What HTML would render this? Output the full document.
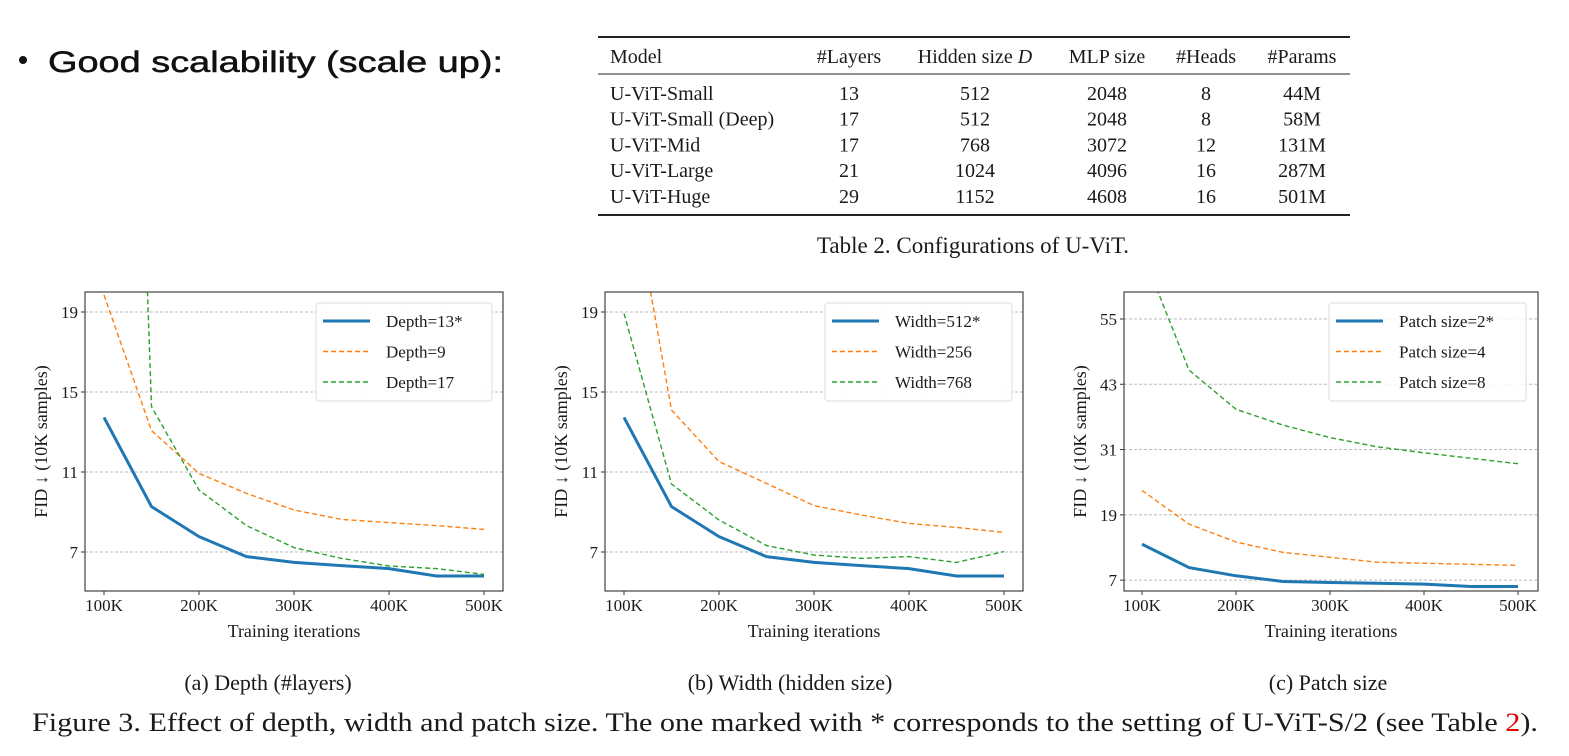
<!DOCTYPE html>
<html><head><meta charset="utf-8"><style>
body{margin:0;background:#fff;width:1569px;height:756px;overflow:hidden}
svg{display:block}
.serif{font-family:"Liberation Serif",serif;fill:#1a1a1a}
</style></head><body>
<svg id="root" width="1569" height="756" xmlns="http://www.w3.org/2000/svg">
<g>
<circle cx="23" cy="60" r="4" fill="#111"/>
<text x="48" y="72" font-family="Liberation Sans, sans-serif" font-size="30" fill="#111" stroke="#111" stroke-width="0.5" textLength="455" lengthAdjust="spacingAndGlyphs">Good scalability (scale up):</text>
</g>
<g id="table" class="serif" font-size="20"></g>
<text class="serif" x="973" y="253" font-size="23" text-anchor="middle">Table 2. Configurations of U-ViT.</text>
<g id="charts"></g>
<text class="serif" x="268" y="690" font-size="22" text-anchor="middle">(a) Depth (#layers)</text>
<text class="serif" x="790" y="690" font-size="22" text-anchor="middle">(b) Width (hidden size)</text>
<text class="serif" x="1328" y="690" font-size="22" text-anchor="middle">(c) Patch size</text>
<text class="serif" x="32" y="731" font-size="26" textLength="1506" lengthAdjust="spacingAndGlyphs">Figure 3. Effect of depth, width and patch size. The one marked with * corresponds to the setting of U-ViT-S/2 (see Table <tspan fill="#e00000">2</tspan>).</text>
</svg>
<script>
const NS="http://www.w3.org/2000/svg";
const iterations=[100,150,200,250,300,350,400,450,500];
const xTicks=[100,200,300,400,500];
const xTickLabels=["100K","200K","300K","400K","500K"];
const yTicksA=[7,11,15,19];
const yTicksC=[7,19,31,43,55];
const depth13=[13.73,9.27,7.77,6.77,6.48,6.32,6.17,5.8,5.8];
const depth9=[19.85,13.07,10.93,9.93,9.1,8.63,8.47,8.32,8.13];
const depth17=[82,14.27,10.1,8.32,7.22,6.68,6.3,6.17,5.88];
const width512=[13.73,9.27,7.77,6.77,6.48,6.32,6.17,5.8,5.8];
const width256=[27.5,14.1,11.52,10.43,9.32,8.85,8.43,8.23,7.98];
const width768=[18.93,10.4,8.6,7.32,6.85,6.68,6.77,6.48,7.02];
const patch2=[13.6,9.3,7.8,6.75,6.56,6.44,6.26,5.83,5.83];
const patch4=[23.5,17.3,14.0,12.1,11.2,10.3,10.1,9.9,9.7];
const patch8=[67.4,45.6,38.4,35.5,33.2,31.5,30.4,29.4,28.4];
const labelsA=["Depth=13*","Depth=9","Depth=17"];
const labelsB=["Width=512*","Width=256","Width=768"];
const labelsC=["Patch size=2*","Patch size=4","Patch size=8"];
const tableHead=["Model","#Layers","Hidden size D","MLP size","#Heads","#Params"];
const tableRows=[["U-ViT-Small","13","512","2048","8","44M"],["U-ViT-Small (Deep)","17","512","2048","8","58M"],["U-ViT-Mid","17","768","3072","12","131M"],["U-ViT-Large","21","1024","4096","16","287M"],["U-ViT-Huge","29","1152","4608","16","501M"]];

function mk(tag,attrs,parent){const e=document.createElementNS(NS,tag);for(const k in attrs)e.setAttribute(k,attrs[k]);parent.appendChild(e);return e;}

const tg=document.getElementById('table');
const colX=[610,849,975,1107,1206,1302];
mk('line',{x1:598,x2:1350,y1:37,y2:37,stroke:'#222','stroke-width':2},tg);
mk('line',{x1:598,x2:1350,y1:74,y2:74,stroke:'#222','stroke-width':1},tg);
mk('line',{x1:598,x2:1350,y1:215,y2:215,stroke:'#222','stroke-width':2},tg);
tableHead.forEach((h,i)=>{const t=mk('text',{x:colX[i],y:63,'text-anchor':i?'middle':'start'},tg);
 if(i===2){t.innerHTML='Hidden size <tspan font-style="italic">D</tspan>';}else t.textContent=h;
 
 });
tableRows.forEach((r,ri)=>r.forEach((c,i)=>{const t=mk('text',{x:colX[i],y:100+ri*25.7,'text-anchor':i?'middle':'start'},tg);t.textContent=c;
 
 }));

const charts=[
 {id:'a',fx:85,fr:503,x0:104,x1:484,ymin:5.05,ymax:20,yt:yTicksA,series:[depth13,depth9,depth17],labels:labelsA,lg:[316,492]},
 {id:'b',fx:605,fr:1023,x0:624,x1:1004,ymin:5.05,ymax:20,yt:yTicksA,series:[width512,width256,width768],labels:labelsB,lg:[825,1012]},
 {id:'c',fx:1124,fr:1538,x0:1142,x1:1518,ymin:5,ymax:59.96,yt:yTicksC,series:[patch2,patch4,patch8],labels:labelsC,lg:[1329,1526]}];
const colors=['#1f77b4','#ff7f0e','#2ca02c'];
const chartRoot=document.getElementById('charts');
const plotTop=292,plotBot=591;
charts.forEach(c=>{
 const g=mk('g',{},chartRoot);
 
 
 const X=v=>c.x0+(v-100)/400*(c.x1-c.x0);
 const Y=v=>plotBot-(v-c.ymin)/(c.ymax-c.ymin)*(plotBot-plotTop);
 const cp=mk('clipPath',{id:'clip'+c.id},g);
 mk('rect',{x:c.fx,y:plotTop,width:c.fr-c.fx,height:plotBot-plotTop},cp);
 c.yt.forEach(v=>{
  const l=mk('line',{x1:c.fx,x2:c.fr,y1:Y(v),y2:Y(v),stroke:'#bbb','stroke-width':1,'stroke-dasharray':'3,2'},g);
  
  
  mk('line',{x1:c.fx-4,x2:c.fx,y1:Y(v),y2:Y(v),stroke:'#333'},g);
  const t=mk('text',{x:c.fx-7,y:Y(v)+6,'text-anchor':'end','font-size':17,class:'serif'},g);t.textContent=v;
  
  
 });
 xTicks.forEach((v,i)=>{
  mk('line',{x1:X(v),x2:X(v),y1:plotBot,y2:plotBot+4,stroke:'#333'},g);
  const t=mk('text',{x:X(v),y:plotBot+20,'text-anchor':'middle','font-size':17,class:'serif'},g);t.textContent=xTickLabels[i];
  
  
 });
 const pg=mk('g',{'clip-path':'url(#clip'+c.id+')'},g);
 c.series.forEach((s,si)=>{
  const d=s.map((v,i)=>(i?'L':'M')+X(iterations[i]).toFixed(1)+','+Y(v).toFixed(1)).join('');
  const p=mk('path',{d:d,fill:'none',stroke:colors[si],'stroke-width':si?1.4:3,'stroke-dasharray':si?'5,3':'none'},pg);
  
  
 });
 mk('rect',{x:c.fx,y:plotTop,width:c.fr-c.fx,height:plotBot-plotTop,fill:'none',stroke:'#444','stroke-width':1.2},g);
 const lg=mk('g',{},g);
 
 
 mk('rect',{x:c.lg[0],y:303,width:c.lg[1]-c.lg[0],height:98,rx:3,fill:'#fff','fill-opacity':0.85,stroke:'#ddd'},lg);
 c.labels.forEach((lab,i)=>{
  const yy=321+i*30.5;
  mk('line',{x1:c.lg[0]+7,x2:c.lg[0]+54,y1:yy,y2:yy,stroke:colors[i],'stroke-width':i?1.4:3,'stroke-dasharray':i?'5,3':'none'},lg);
  const t=mk('text',{x:c.lg[0]+70,y:yy+6,'font-size':17,class:'serif'},lg);t.textContent=lab;
  
  
 });
 const xl=mk('text',{x:(c.fx+c.fr)/2,y:637,'text-anchor':'middle','font-size':18,class:'serif'},g);xl.textContent='Training iterations';
 
 
 const yl=mk('text',{x:0,y:0,'text-anchor':'middle','font-size':18,class:'serif',transform:'translate('+(c.fx-38)+','+((plotTop+plotBot)/2)+') rotate(-90)'},g);yl.textContent='FID ↓ (10K samples)';
 
 
});
</script>
</body></html>
